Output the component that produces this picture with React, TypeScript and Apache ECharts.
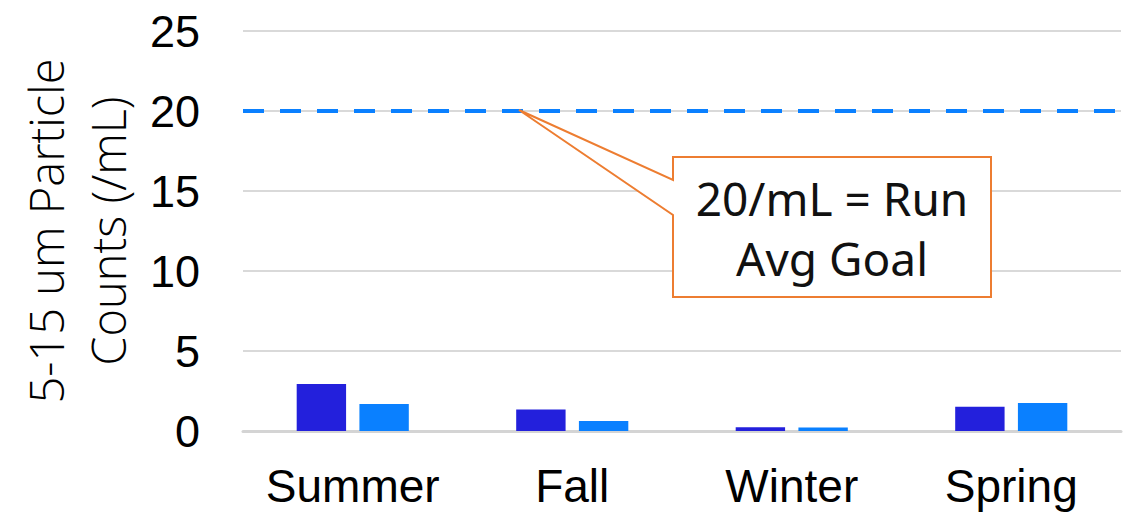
import React, { useEffect, useRef } from "react";
import * as echarts from "echarts";

// Seasonal 5–15 µm particle counts, two sample sets per season
const seasons = ["Summer", "Fall", "Winter", "Spring"];
const setA = [2.93, 1.35, 0.23, 1.52];
const setB = [1.68, 0.62, 0.22, 1.75];
const goal = 20;
const yTicks = { min: 0, max: 25, interval: 5 };

const DARK = "#2320DC";
const LIGHT = "#0A80FF";
const ORANGE = "#ED7D31";

export default function App() {
  const ref = useRef<HTMLDivElement>(null);

  useEffect(() => {
    if (!ref.current) return;
    const chart = echarts.init(ref.current, undefined, { renderer: "svg" });

    chart.setOption({
      animation: false,
      grid: { left: 243, right: 6, top: 31, bottom: 84, containLabel: false },
      xAxis: {
        type: "category",
        data: seasons,
        axisLine: { show: true, lineStyle: { color: "#d4d4d4", width: 3 } },
        axisTick: { show: false },
        axisLabel: {
          interval: 0,
          color: "#000",
          fontFamily: "Liberation Sans, Arial, sans-serif",
          fontSize: 46,
          margin: 32,
        },
      },
      yAxis: {
        type: "value",
        min: yTicks.min,
        max: yTicks.max,
        interval: yTicks.interval,
        name: "5-15 um Particle\nCounts (/mL)",
        nameLocation: "middle",
        nameGap: 96,
        nameTextStyle: {
          color: "#000",
          fontFamily: "Open Sans, Noto Sans, sans-serif",
          fontWeight: 300,
          fontSize: 47,
          lineHeight: 62,
        },
        axisLine: { show: false },
        axisTick: { show: false },
        splitLine: { lineStyle: { color: "#d9d9d9", width: 2 } },
        axisLabel: {
          color: "#000",
          fontFamily: "Liberation Sans, Arial, sans-serif",
          fontSize: 45,
          margin: 43,
        },
      },
      series: [
        {
          type: "bar",
          data: setA,
          barWidth: "22.5%",
          barGap: "27%",
          itemStyle: { color: DARK },
          markLine: {
            silent: true,
            symbol: "none",
            label: { show: false },
            lineStyle: { color: LIGHT, type: [21, 16], width: 4 },
            data: [{ yAxis: goal }],
          },
        },
        {
          type: "bar",
          data: setB,
          barWidth: "22.5%",
          barGap: "27%",
          itemStyle: { color: LIGHT },
        },
      ],
      graphic: [
        {
          type: "polygon",
          shape: {
            points: [
              [673, 157],
              [991, 157],
              [991, 297],
              [673, 297],
              [673, 215],
              [519, 110],
              [673, 180],
            ],
          },
          style: { fill: "#fff", stroke: ORANGE, lineWidth: 2 },
          z: 100,
        },
        {
          type: "text",
          x: 832,
          y: 228,
          z: 101,
          style: {
            text: "20/mL = Run\nAvg Goal",
            fill: "#111",
            fontFamily: "Noto Sans, Open Sans, sans-serif",
            fontSize: 46,
            lineHeight: 60,
            align: "center",
            verticalAlign: "middle",
          },
        },
      ],
    });

    return () => chart.dispose();
  }, []);

  return (
    <div
      ref={ref}
      style={{ position: "fixed", left: 0, top: 0, width: 1127, height: 515, background: "#fff" }}
    />
  );
}
